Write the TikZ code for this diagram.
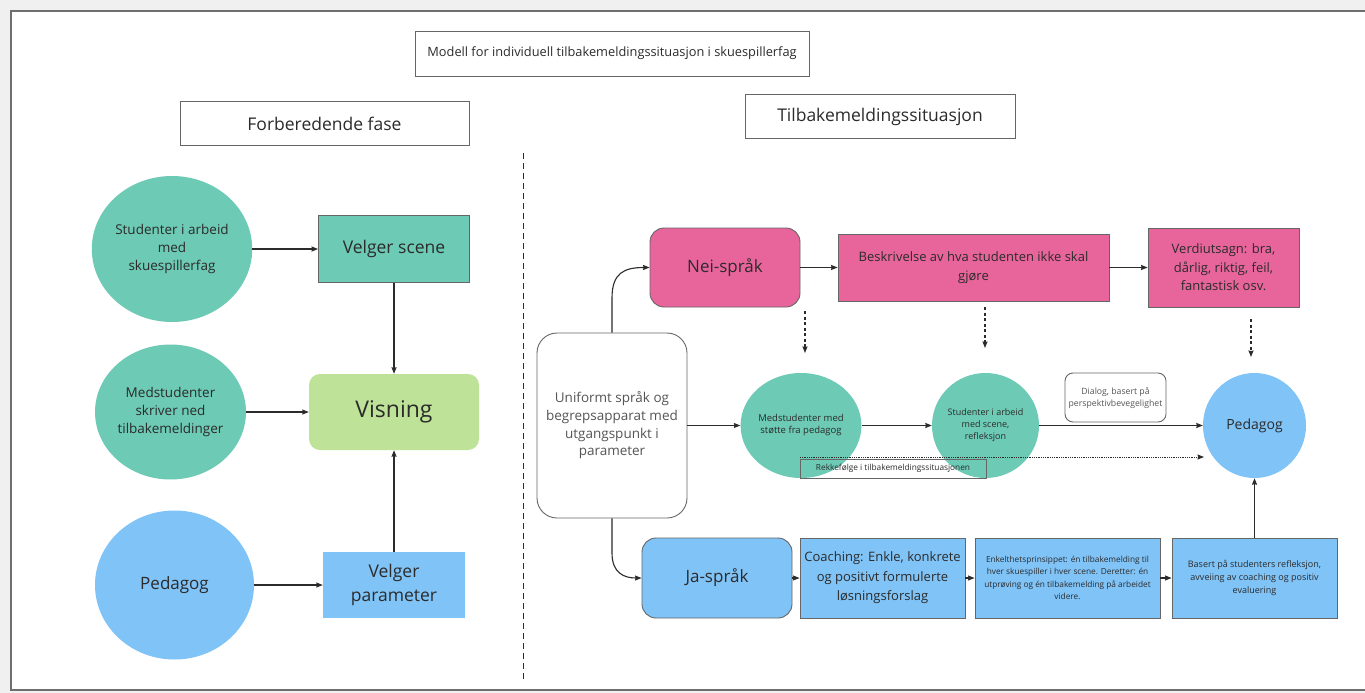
\documentclass[tikz,border=0pt]{standalone}
\usepackage{fontspec}
\setmainfont{Open Sans}
\usetikzlibrary{arrows.meta,shapes.geometric}

\definecolor{pagegray}{HTML}{F0F0F0}
\definecolor{framegray}{HTML}{6E6E6E}
\definecolor{edgegray}{HTML}{666666}
\definecolor{inkdark}{HTML}{2B2B2B}
\definecolor{inkgray}{HTML}{555555}
\definecolor{tealfill}{HTML}{6DCAB5}
\definecolor{pinkfill}{HTML}{E8659C}
\definecolor{bluefill}{HTML}{80C3F7}
\definecolor{greenfill}{HTML}{BEE398}

\tikzset{
  fs/.style n args={2}{font=\fontsize{#1}{#2}\selectfont},
  base/.style={align=center, inner sep=0pt, text=inkdark},
  framed/.style={base, draw=edgegray, line width=0.9pt},
  labelbox/.style={framed, fill=white, text=inkdark},
  disc/.style={base, ellipse},
  conn/.style={draw=inkdark, line width=1.1pt, -{Stealth[length=6.5pt,width=5pt,inset=0.6pt]}},
  dashconn/.style={conn, dash pattern=on 3pt off 2.5pt},
  dotconn/.style={conn, line width=0.9pt, dash pattern=on 0.9pt off 0.9pt},
}

\begin{document}
\begin{tikzpicture}[x=1pt,y=-1pt]
\useasboundingbox (0,0) rectangle (1365,693);
\fill[pagegray] (0,0) rectangle (1365,693);
\draw[fill=white, draw=framegray, line width=1.5pt] (11,11) rectangle (1372,690);

% headings
\node[labelbox, fs={12.8}{15}, minimum width=394pt, minimum height=45pt] (title) at (612,53.5)
  {Modell for individuell tilbakemeldingssituasjon i skuespillerfag};
\node[labelbox, fs={17.5}{21}, minimum width=289pt, minimum height=44pt] (prep) at (324.5,123.5)
  {Forberedende fase};
\node[labelbox, fs={17.5}{21}, minimum width=270pt, minimum height=44pt] (fbsit) at (880,116.5)
  {Tilbakemeldingssituasjon};

% divider between the two phases
\coordinate (divtop) at (523,153);
\coordinate (divbot) at (523,680);
\draw[inkdark, line width=0.9pt, dash pattern=on 6pt off 4pt] (divtop) -- (divbot);

% ---------- preparatory phase ----------
\node[disc, fill=tealfill, fs={13.5}{18}, minimum width=155pt, minimum height=146pt] (stud1) at (172,249)
  {Studenter i arbeid\\med\\skuespillerfag};
\node[framed, fill=tealfill, fs={17.5}{22}, minimum width=151pt, minimum height=67pt] (scene) at (394,249)
  {Velger scene};
\node[disc, fill=tealfill, fs={13.5}{18}, minimum width=151pt, minimum height=135pt] (medst1) at (170.5,412)
  {Medstudenter\\skriver ned\\tilbakemeldinger};
\node[base, fill=greenfill, rounded corners=11pt, fs={23}{28}, minimum width=170pt, minimum height=76pt] (vis) at (394,412)
  {Visning};
\node[disc, fill=bluefill, fs={17}{22}, minimum width=159pt, minimum height=149pt] (ped1) at (174.5,585)
  {Pedagog};
\node[base, fill=bluefill, fs={17.5}{24}, minimum width=142pt, minimum height=66pt] (param) at (394,585)
  {Velger\\parameter};

\draw[conn] (stud1.east) -- (scene.west);
\draw[conn] (medst1.east) -- (vis.west);
\draw[conn] (ped1.east) -- (param.west);
\draw[conn] (scene.south) -- (vis.north);
\draw[conn] (param.north) -- (vis.south);

% ---------- feedback situation ----------
\node[framed, fill=white, text=inkgray, rounded corners=20pt, fs={13.5}{17.7}, minimum width=150pt, minimum height=185pt] (uni) at (612,425.5)
  {Uniformt språk og\\begrepsapparat med\\utgangspunkt i\\parameter};

\node[framed, fill=pinkfill, rounded corners=14pt, fs={17}{22}, minimum width=150pt, minimum height=79pt] (nei) at (725,267.5)
  {Nei-språk};
\node[framed, fill=pinkfill, fs={13}{19}, minimum width=271pt, minimum height=67pt] (besk) at (973.5,267.5)
  {Beskrivelse av hva studenten ikke skal\\gjøre};
\node[framed, fill=pinkfill, fs={13}{18.5}, minimum width=151pt, minimum height=79pt] (verd) at (1223.5,267.5)
  {Verdiutsagn: bra,\\dårlig, riktig, feil,\\fantastisk osv.};

\node[disc, fill=tealfill, fs={9.5}{12}, minimum width=112pt, minimum height=105pt] (medst2) at (801,425.5)
  {Medstudenter med\\støtte fra pedagog};
\node[disc, fill=tealfill, fs={9}{12}, minimum width=107pt, minimum height=105pt] (stud2) at (985.5,425.5)
  {Studenter i arbeid\\med scene,\\refleksjon};
\node[disc, fill=bluefill, fs={14}{18}, minimum width=103pt, minimum height=105pt] (ped2) at (1254.5,425.5)
  {Pedagog};

\node[framed, fill=white, text=inkgray, rounded corners=8pt, fs={8.7}{12}, minimum width=101pt, minimum height=49pt] (dialog) at (1115.5,397.5)
  {Dialog, basert på\\perspektivbevegelighet};
\node[framed, text=inkdark, fs={8.3}{10}, minimum width=186pt, minimum height=19pt] (order) at (893,468.5)
  {Rekkefølge i tilbakemeldingssituasjonen};

\node[framed, fill=bluefill, rounded corners=14pt, fs={17}{22}, minimum width=150pt, minimum height=80pt] (ja) at (717,578)
  {Ja-språk};
\node[framed, fill=bluefill, fs={13}{19.5}, minimum width=165pt, minimum height=80pt] (coach) at (882.5,578)
  {Coaching: Enkle, konkrete\\og positivt formulerte\\løsningsforslag};
\node[framed, fill=bluefill, fs={8.3}{12.5}, minimum width=185pt, minimum height=80pt] (single) at (1067.5,578)
  {Enkelthetsprinsippet: én tilbakemelding til\\hver skuespiller i hver scene. Deretter: én\\utprøving og én tilbakemelding på arbeidet\\videre.};
\node[framed, fill=bluefill, fs={9}{13}, minimum width=165pt, minimum height=80pt] (based) at (1254.5,578)
  {Basert på studenters refleksjon,\\avveiing av coaching og positiv\\evaluering};

% main flow
\draw[conn] (uni.north) -- (612,298) .. controls (612,273) and (624,267.5) .. (nei.west);
\draw[conn] (uni.south) -- (612,553) .. controls (612,573) and (624,578) .. (ja.west);
\draw[conn] (uni.east) -- (medst2.west);
\draw[conn] (medst2.east) -- (stud2.west);
\draw[conn] (stud2.east) -- (ped2.west);
\draw[conn] (nei.east) -- (besk.west);
\draw[conn] (besk.east) -- (verd.west);
\draw[conn] (ja.east) -- (coach.west);
\draw[conn] (coach.east) -- (single.west);
\draw[conn] (single.east) -- (based.west);
\draw[conn] (based.north) -- (ped2.south);

% dashed hints from the "no" language down to the circles
\coordinate (h1a) at (805,311);  \coordinate (h1b) at (805,353);
\coordinate (h2a) at (985,307);  \coordinate (h2b) at (985,348);
\coordinate (h3a) at (1251,319); \coordinate (h3b) at (1251,357);
\draw[dashconn] (h1a) -- (h1b);
\draw[dashconn] (h2a) -- (h2b);
\draw[dashconn] (h3a) -- (h3b);

% dotted sequence line
\coordinate (seqa) at (800,457);
\coordinate (seqb) at (1204,457);
\draw[dotconn] (seqa) -- (seqb);
\end{tikzpicture}
\end{document}
